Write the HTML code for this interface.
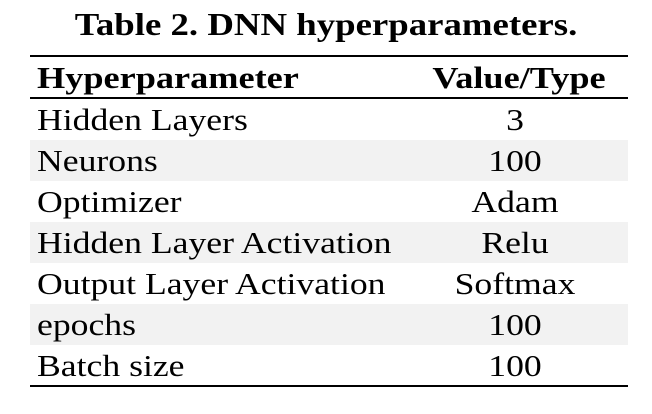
<!DOCTYPE html>
<html><head><style>
body{margin:0;width:652px;height:414px;background:#fff;position:relative;overflow:hidden;font-family:"Liberation Serif",serif;color:#000}
.t{position:absolute;left:0;width:652px;text-align:center;top:6px;font-weight:bold;font-size:32px;transform:scaleX(1.15);transform-origin:326px 0}
.line{position:absolute;left:30px;width:598px;background:#000}
.row{position:absolute;left:30px;width:598px;height:41px;font-size:31px;line-height:41px}
.row .a{position:absolute;left:7px;transform:scaleX(1.15);transform-origin:0 0;white-space:nowrap}
.row .b{position:absolute;left:385px;width:200px;text-align:center;transform:scaleX(1.15);transform-origin:100px 0;white-space:nowrap}
.s{background:#f2f2f2}
.h .a,.h .b{font-weight:bold;transform:scaleX(1.17)}
.h .b{left:389px}
</style></head><body>
<div class="t">Table 2. DNN hyperparameters.</div>
<div class="line" style="top:55px;height:2px"></div>
<div class="row h" style="top:57px"><span class="a">Hyperparameter</span><span class="b">Value/Type</span></div>
<div class="line" style="top:97px;height:1.5px"></div>
<div class="row" style="top:99px"><span class="a">Hidden Layers</span><span class="b">3</span></div>
<div class="row s" style="top:140px"><span class="a">Neurons</span><span class="b">100</span></div>
<div class="row" style="top:181px"><span class="a">Optimizer</span><span class="b">Adam</span></div>
<div class="row s" style="top:222px"><span class="a">Hidden Layer Activation</span><span class="b">Relu</span></div>
<div class="row" style="top:263px"><span class="a">Output Layer Activation</span><span class="b">Softmax</span></div>
<div class="row s" style="top:304px"><span class="a">epochs</span><span class="b">100</span></div>
<div class="row" style="top:345px"><span class="a">Batch size</span><span class="b">100</span></div>
<div class="line" style="top:385px;height:2px"></div>
</body></html>
